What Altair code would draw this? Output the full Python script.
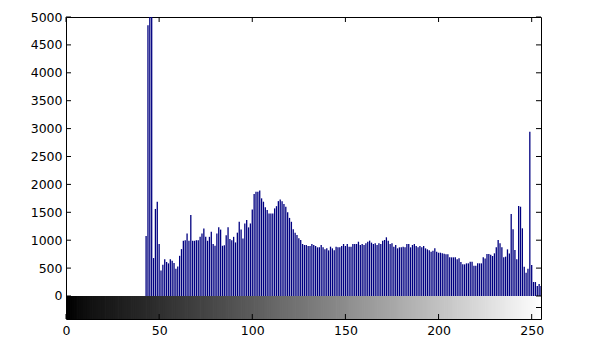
import altair as alt
import pandas as pd

# Gray levels 0..255 and their pixel counts
bins = list(range(256))
counts = [
    0, 0, 0, 0, 0, 0, 0, 0, 0, 0,
    0, 0, 0, 0, 0, 0, 0, 0, 0, 0,
    0, 0, 0, 0, 0, 0, 0, 0, 0, 0,
    0, 0, 0, 0, 0, 0, 0, 0, 0, 0,
    0, 0, 0, 1075, 4850, 5400, 5400, 680, 1560, 1690,
    930, 455, 560, 660, 610, 585, 660, 630, 590, 490,
    530, 720, 840, 990, 1000, 1120, 990, 1450, 990, 990,
    1000, 1000, 1060, 1120, 1210, 1060, 990, 1060, 1150, 930,
    900, 1120, 1230, 1190, 900, 910, 1090, 1230, 1020, 1000,
    1060, 960, 1135, 1330, 1190, 1030, 1300, 1360, 1230, 1300,
    1550, 1830, 1870, 1870, 1890, 1750, 1690, 1590, 1540, 1480,
    1480, 1480, 1570, 1610, 1700, 1730, 1700, 1650, 1600, 1500,
    1400, 1330, 1195, 1135, 1093, 1034, 1004, 932, 914, 914,
    896, 896, 932, 914, 896, 872, 872, 914, 872, 836,
    854, 818, 884, 854, 818, 884, 872, 872, 896, 932,
    896, 932, 884, 884, 932, 932, 932, 973, 914, 932,
    914, 944, 973, 992, 956, 932, 944, 914, 944, 932,
    992, 1004, 1052, 992, 932, 944, 884, 914, 854, 872,
    872, 884, 872, 932, 932, 872, 914, 932, 896, 872,
    896, 872, 896, 854, 836, 818, 794, 812, 854, 794,
    776, 776, 765, 755, 747, 747, 693, 693, 693, 693,
    657, 675, 609, 567, 567, 585, 585, 615, 615, 540,
    540, 585, 585, 585, 693, 670, 753, 753, 740, 717,
    765, 872, 1004, 944, 872, 693, 705, 836, 760, 1470,
    1195, 824, 657, 1613, 1600, 1213, 525, 418, 490, 2944,
    556, 251, 250, 179, 215, 180,
]
y_ticks = [0, 500, 1000, 1500, 2000, 2500, 3000, 3500, 4000, 4500, 5000]
x_ticks = [0, 50, 100, 150, 200, 250]

W, H = 475, 302
Y_MIN = -412.2   # space below 0 used by the gray-level colour bar

df = pd.DataFrame({"bin": bins, "count": counts})
xs = alt.Scale(domain=[0, 255], nice=False, zero=False)
ys = alt.Scale(domain=[Y_MIN, 5000], nice=False, zero=False)
FONT = "DejaVu Sans"

y_axis = alt.Axis(
    values=y_ticks, ticks=False, domain=False, grid=False, labelPadding=4, format="d",
    title=None, labelOverlap=False, labelFont=FONT, labelFontSize=12.5, labelColor="#000")
x_axis = alt.Axis(
    values=x_ticks, ticks=False, domain=False, grid=False, labelPadding=5, format="d",
    title=None, labelFlush=False, labelOverlap=False,
    labelFont=FONT, labelFontSize=12.5, labelColor="#000")

grad = alt.Chart(df).transform_calculate(xe="datum.bin + 1.4").mark_rect(
    clip=True, strokeWidth=0
).encode(
    x=alt.X("bin:Q", scale=xs, axis=x_axis),
    x2="xe:Q",
    y=alt.Y(datum=Y_MIN, type="quantitative", scale=ys, axis=y_axis),
    y2=alt.datum(0),
    color=alt.Color("bin:Q", scale=alt.Scale(domain=[0, 255], range=["#000000", "#ffffff"]), legend=None),
)

bars = alt.Chart(df).transform_filter("datum.count > 0").mark_rule(
    color="#000080", strokeWidth=1.3, clip=True
).encode(
    x=alt.X("bin:Q", scale=xs, axis=x_axis),
    y=alt.Y("count:Q", scale=ys, axis=y_axis),
    y2=alt.datum(0),
)

ydf = pd.DataFrame({"v": y_ticks})
xdf = pd.DataFrame({"v": x_ticks})
left_t = alt.Chart(ydf).mark_rule(color="black").encode(
    y=alt.Y("v:Q", scale=ys, axis=y_axis), x=alt.value(0), x2=alt.value(5))
right_t = alt.Chart(ydf).mark_rule(color="black").encode(
    y=alt.Y("v:Q", scale=ys, axis=y_axis), x=alt.value(W - 5), x2=alt.value(W))
top_t = alt.Chart(xdf).mark_rule(color="black").encode(
    x=alt.X("v:Q", scale=xs, axis=x_axis), y=alt.value(0), y2=alt.value(5))
bot_t = alt.Chart(xdf).mark_rule(color="black").encode(
    x=alt.X("v:Q", scale=xs, axis=x_axis), y=alt.value(H - 5), y2=alt.value(H))
mid_t = alt.Chart(pd.DataFrame({"v": [0]})).mark_rule(color="black").encode(
    x=alt.value(W - 5), x2=alt.value(W), y=alt.value(H - 11.5))

chart = alt.layer(grad, bars, left_t, right_t, top_t, bot_t, mid_t).properties(
    width=W, height=H,
    padding={"left": 66, "top": 17, "right": 50, "bottom": 35},
    autosize=alt.AutoSizeParams(type="none"),
    background="white",
).configure_view(stroke="black", strokeWidth=1)

chart.save("out.html", embed_options={"renderer": "svg", "actions": False})
